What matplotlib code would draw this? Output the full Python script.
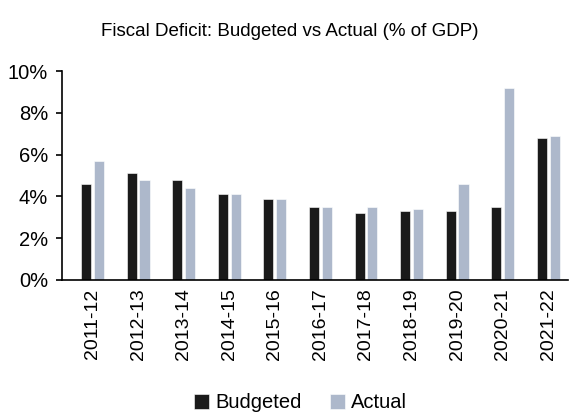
import matplotlib.pyplot as plt
import numpy as np
from matplotlib.ticker import FuncFormatter

# Daten
years = ['2011-12', '2012-13', '2013-14', '2014-15', '2015-16', '2016-17',
         '2017-18', '2018-19', '2019-20', '2020-21', '2021-22']
budgeted = [4.6, 5.1, 4.8, 4.1, 3.9, 3.5, 3.2, 3.3, 3.3, 3.5, 6.8]
actual = [5.7, 4.8, 4.4, 4.1, 3.9, 3.5, 3.5, 3.4, 4.6, 9.2, 6.9]

plt.rcParams['font.family'] = ['Liberation Sans Narrow', 'Liberation Sans', 'DejaVu Sans']

fig = plt.figure(figsize=(5.69, 4.16), dpi=100)
ax = fig.add_axes([0.109, 0.327, 0.889, 0.502])

x = np.arange(len(years))
w = 0.22
ax.bar(x - 0.14, budgeted, w, color='#1a1a1a', edgecolor='white', linewidth=0.4, label='Budgeted')
ax.bar(x + 0.14, actual, w, color='#adb8cb', edgecolor='white', linewidth=0.4, label='Actual')

ax.set_xlim(-0.67, 10.43)
ax.set_ylim(0, 10)
ax.set_yticks(range(0, 11, 2))
ax.yaxis.set_major_formatter(FuncFormatter(lambda v, p: f'{v:.0f}%'))
ax.set_xticks(x)
ax.set_xticklabels(years, rotation=90, fontsize=14)
ax.tick_params(axis='y', labelsize=14.5, length=4, width=1.2, direction='out', pad=6)
ax.tick_params(axis='x', length=0, pad=6)
for s in ['top', 'right']:
    ax.spines[s].set_visible(False)
for s in ['left', 'bottom']:
    ax.spines[s].set_linewidth(1.2)

fig.suptitle('Fiscal Deficit: Budgeted vs Actual (% of GDP)', fontsize=13.5, y=0.945, x=0.51)
fig.legend(loc='lower center', bbox_to_anchor=(0.528, -0.035), ncol=2, frameon=False,
           fontsize=14.5, handlelength=0.75, handleheight=0.75, handletextpad=0.3, columnspacing=1.4)

fig.savefig('out.png', dpi=100)
